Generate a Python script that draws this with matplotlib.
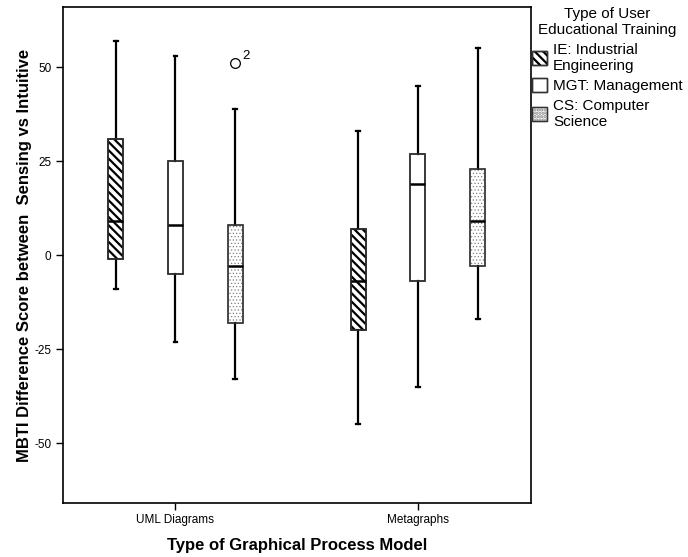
import matplotlib
matplotlib.use("Agg")
import matplotlib.pyplot as plt
from matplotlib.patches import Patch, PathPatch

plt.rcParams['font.family'] = ['Liberation Sans', 'DejaVu Sans']
plt.rcParams['hatch.linewidth'] = 1.6

# chart data
model_types = ["UML Diagrams", "Metagraphs"]
training = ["IE: Industrial\nEngineering", "MGT: Management", "CS: Computer\nScience"]

ie_whislo = [-9, -45]
ie_q1 = [-1, -20]
ie_med = [9, -7]
ie_q3 = [31, 7]
ie_whishi = [57, 33]

mgt_whislo = [-23, -35]
mgt_q1 = [-5, -7]
mgt_med = [8, 19]
mgt_q3 = [25, 27]
mgt_whishi = [53, 45]

cs_whislo = [-33, -17]
cs_q1 = [-18, -3]
cs_med = [-3, 9]
cs_q3 = [8, 23]
cs_whishi = [39, 55]
cs_fliers = [[51], []]
cs_flier_labels = [["2"], []]

y_ticks = [-50, -25, 0, 25, 50]

# styles per training group
hatches = ['\\\\\\\\', '', '.....']
hatch_colors = ['black', '#333333', '#808080']
hatch_lw = [1.6, 1.0, 0.5]
offsets = [-0.246, 0.0, 0.246]

fig = plt.figure(figsize=(6.88, 5.57), dpi=100)
ax = fig.add_axes([0.0911, 0.0964, 0.6803, 0.8910])


def make_stats(whislo, q1, med, q3, whishi, fliers=None):
    stats = []
    for i in range(len(med)):
        stats.append({
            'whislo': whislo[i], 'q1': q1[i], 'med': med[i],
            'q3': q3[i], 'whishi': whishi[i],
            'fliers': fliers[i] if fliers else [],
        })
    return stats


def style_patch(p, k):
    # hatch takes the edge colour, so draw the hatch in its own colour
    # and put a dark outline on top
    p.set_hatch(hatches[k])
    p.set_edgecolor(hatch_colors[k])
    if hasattr(p, 'set_hatch_linewidth'):
        p.set_hatch_linewidth(hatch_lw[k])


all_stats = [
    make_stats(ie_whislo, ie_q1, ie_med, ie_q3, ie_whishi),
    make_stats(mgt_whislo, mgt_q1, mgt_med, mgt_q3, mgt_whishi),
    make_stats(cs_whislo, cs_q1, cs_med, cs_q3, cs_whishi, cs_fliers),
]

for k, stats in enumerate(all_stats):
    pos = [i + 1 + offsets[k] for i in range(len(model_types))]
    bp = ax.bxp(stats, positions=pos, widths=0.062, patch_artist=True,
                showfliers=True, manage_ticks=False, capwidths=0.016,
                boxprops=dict(facecolor='white', edgecolor='#333333', linewidth=1.1),
                whiskerprops=dict(color='black', linewidth=1.6),
                capprops=dict(color='black', linewidth=1.6),
                medianprops=dict(color='black', linewidth=1.8, zorder=4),
                flierprops=dict(marker='o', markersize=7, markerfacecolor='white',
                                markeredgecolor='black', markeredgewidth=0.9))
    for box in bp['boxes']:
        style_patch(box, k)
        ax.add_patch(PathPatch(box.get_path(), facecolor='none', edgecolor='#333333',
                               linewidth=1.1, zorder=3))

# label the outlier case numbers
for i, vals in enumerate(cs_fliers):
    for v, lab in zip(vals, cs_flier_labels[i]):
        ax.annotate(lab, xy=(i + 1 + offsets[2], v), xytext=(5, 3),
                    textcoords='offset points', fontsize=9.5)

ax.set_xlim(0.535, 2.465)
ax.set_ylim(-66, 66)
ax.set_xticks([1, 2])
ax.set_xticklabels(model_types, fontsize=8.5)
ax.set_yticks(y_ticks)
ax.set_yticklabels([str(t) for t in y_ticks], fontsize=8.5)
ax.tick_params(direction='out', length=5, width=1.0, pad=3)
for s in ax.spines.values():
    s.set_linewidth(1.2)

ax.set_xlabel("Type of Graphical Process Model", fontsize=12, fontweight='bold', labelpad=8)
ax.set_ylabel("MBTI Difference Score between  Sensing vs Intuitive", fontsize=12,
              fontweight='bold', labelpad=2)

handles = []
for k in range(len(training)):
    h = Patch(facecolor='white', linewidth=1.0)
    style_patch(h, k)
    outline = Patch(facecolor='none', edgecolor='#333333', linewidth=1.0)
    handles.append((h, outline))
leg = ax.legend(handles, training, title="Type of User\nEducational Training",
                loc='upper left', bbox_to_anchor=(1.002, 1.0), frameon=False,
                borderaxespad=0, borderpad=0, handlelength=1.0, handleheight=1.0,
                handletextpad=0.4, labelspacing=0.35, fontsize=11, title_fontsize=11)
leg.get_title().set_multialignment('center')

fig.savefig("out.png", dpi=100)
